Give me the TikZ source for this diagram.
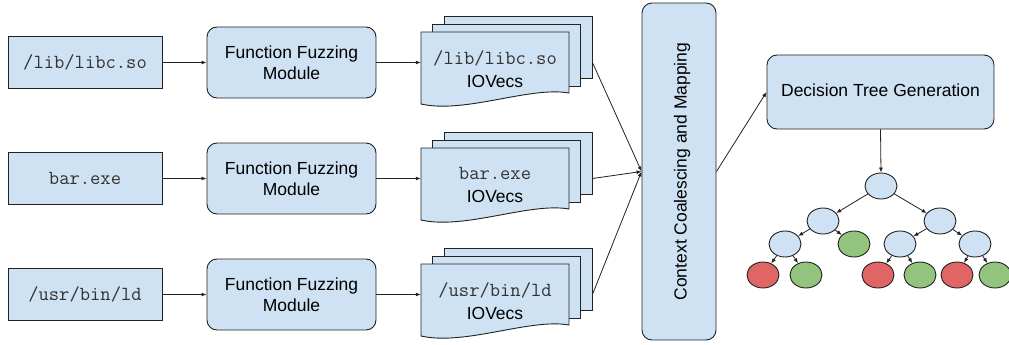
\documentclass[tikz,border=0pt]{standalone}
\usepackage{fontspec}
\setmainfont{Liberation Sans}
\usetikzlibrary{shapes.geometric,arrows.meta}
\definecolor{boxblue}{HTML}{CFE2F3}
\definecolor{leafgreen}{HTML}{93C47D}
\definecolor{leafred}{HTML}{E06666}
\definecolor{edgecol}{HTML}{222222}
\definecolor{monocol}{HTML}{333333}
\newcommand{\monotxt}[1]{{\fontsize{20}{23}\selectfont\ttfamily\color{monocol}#1}}
\begin{document}
\begin{tikzpicture}[x=1pt,y=-1pt,
  base/.style={draw=edgecol, line width=0.9pt, fill=boxblue, inner sep=0pt,
    font=\fontsize{17.5}{21}\selectfont, align=center},
  inbox/.style={base, rectangle, minimum width=154pt, minimum height=52pt},
  fuzzbox/.style={base, rectangle, rounded corners=10pt, minimum width=169pt, minimum height=71pt},
  sheet/.style={base, rectangle, minimum width=148pt, minimum height=62pt},
  doctext/.style={inner sep=0pt, minimum width=148pt, minimum height=68pt, align=center,
    font=\fontsize{17.5}{23}\selectfont},
  docshape/.style={draw=edgecol, line width=0.9pt, fill=boxblue},
  ctxbox/.style={base, rectangle, rounded corners=10pt, minimum width=74pt, minimum height=337pt},
  dtgbox/.style={base, rectangle, rounded corners=10pt, minimum width=227pt, minimum height=74pt},
  lbl/.style={font=\fontsize{17.5}{21}\selectfont, inner sep=0pt},
  arr/.style={draw=edgecol, line width=0.8pt, -{Latex[length=5pt,width=4pt]}},
  tnode/.style={ellipse, draw=edgecol, line width=0.9pt, fill=boxblue,
    minimum width=32pt, minimum height=26pt, inner sep=0pt},
  gnode/.style={tnode, fill=leafgreen},
  rnode/.style={tnode, fill=leafred},
]
\useasboundingbox (0,0) rectangle (1009,345);
\fill[white] (0,0) rectangle (1009,345);

% context and decision tree generation
\node[ctxbox] (ctx) at (679,171.5) {};
\node[lbl, rotate=90] (ctxlbl) at (682,171.5) {Context Coalescing and Mapping};
\node[dtgbox] (dtg) at (880.5,92) {\raisebox{3pt}{Decision Tree Generation}};

% three rows
\foreach \i/\r/\inp in {1/0/{/lib/libc.so}, 2/116/{bar.exe}, 3/232/{/usr/bin/ld}} {
  \node[inbox] (in\i) at (85,62+\r) {\monotxt{\inp}};
  \node[fuzzbox] (ffm\i) at (291.5,62.5+\r) {Function Fuzzing\\Module};
  \node[sheet] (back\i) at (518,47+\r) {};
  \node[sheet] (mid\i) at (506,55+\r) {};
  \draw[docshape] (421,32+\r) -- (569,32+\r) -- (569,93+\r)
     .. controls (530,86+\r) and (465,114+\r) .. (421,104+\r) -- cycle;
  \node[doctext] (doc\i) at (495,69+\r) {\monotxt{\inp}\\IOVecs};
  \draw[arr] (in\i.east |- ffm\i.west) -- (ffm\i.west);
  \draw[arr] (ffm\i.east) -- (ffm\i.east -| doc\i.west);
  \draw[arr] (ffm\i.east -| back\i.east) -- (ctx.west);
}

\draw[arr] (ctx.east) -- (dtg.west);

% tree
\node[tnode] (t0) at (881,186) {};
\node[tnode] (t1) at (823,221) {};
\node[tnode] (t2) at (940,221) {};
\node[tnode] (t11) at (785,244) {};
\node[gnode] (t12) at (854,244) {};
\node[tnode] (t21) at (900,244) {};
\node[tnode] (t22) at (975,244) {};
\node[rnode] (t111) at (763,275) {};
\node[gnode] (t112) at (806,275) {};
\node[rnode] (t211) at (878,275) {};
\node[gnode] (t212) at (920,275) {};
\node[rnode] (t221) at (957,275) {};
\node[gnode] (t222) at (995,275) {};

\draw[arr] (dtg.south) -- (t0.north);
\draw[arr] (t0) -- (t1);
\draw[arr] (t0) -- (t2);
\draw[arr] (t1) -- (t11);
\draw[arr] (t1) -- (t12);
\draw[arr] (t2) -- (t21);
\draw[arr] (t2) -- (t22);
\draw[arr] (t11) -- (t111);
\draw[arr] (t11) -- (t112);
\draw[arr] (t21) -- (t211);
\draw[arr] (t21) -- (t212);
\draw[arr] (t22) -- (t221);
\draw[arr] (t22) -- (t222);
\end{tikzpicture}
\end{document}
